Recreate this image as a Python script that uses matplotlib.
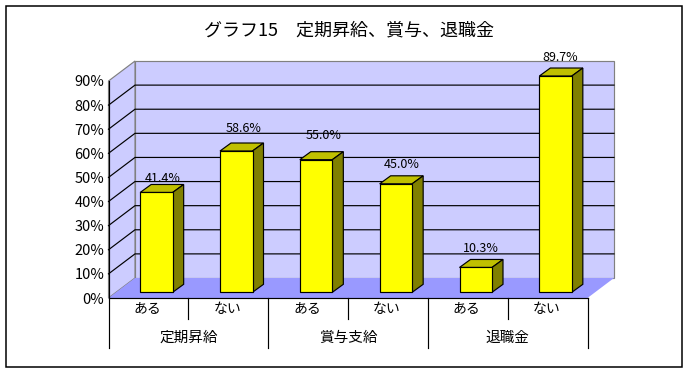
import matplotlib
matplotlib.use("Agg")
import matplotlib.pyplot as plt

plt.rcParams['font.family'] = ['Noto Sans CJK JP', 'DejaVu Sans']

title = "グラフ15　定期昇給、賞与、退職金"
groups = ["定期昇給", "賞与支給", "退職金"]
categories = ["ある", "ない", "ある", "ない", "ある", "ない"]
values = [41.4, 58.6, 55.0, 45.0, 10.3, 89.7]
yticks = [0, 10, 20, 30, 40, 50, 60, 70, 80, 90]

W, H = 689, 374
# front plane of the fake 3d box, in pixels
left, right, bottom, top = 108.5, 587.5, 298.0, 81.0

# how far each value label sits above its bar top, pixels (hand placed in the original)
label_lift = [6, 15, 16.5, 11.5, 10.5, 11]
label_shift = [1, 2, 2, 1, 0, 0]

fig = plt.figure(figsize=(W / 100, H / 100), dpi=100)
ax = fig.add_axes([left / W, 1 - bottom / H, (right - left) / W, (bottom - top) / H])
ax.set_xlim(0, 6)
ax.set_ylim(0, 90)
ax.patch.set_visible(False)

px = 6 / (right - left)  # x units per pixel
py = 90 / (bottom - top)  # y units per pixel
lw = 0.85

# depth offsets in data units
box_dx, box_dy = 26.5 * px, 20 * py
bar_off_dx, bar_off_dy = 8 * px, 5.7 * py
bar_dx, bar_dy = 11 * px, 8 * py
bar_w = 32.5 * px

# walls and floor
ax.fill([box_dx, 6 + box_dx, 6 + box_dx, box_dx], [box_dy, box_dy, 90 + box_dy, 90 + box_dy],
        fc="#ccccff", ec="#808080", lw=lw, clip_on=False, zorder=1)
ax.fill([0, box_dx, box_dx, 0], [0, box_dy, 90 + box_dy, 90],
        fc="#ccccff", ec="#808080", lw=lw, clip_on=False, zorder=1)
ax.fill([0, 6, 6 + box_dx, box_dx], [0, 0, box_dy, box_dy],
        fc="#9999ff", ec="none", clip_on=False, zorder=2)

# gridlines
for t in yticks[1:-1]:
    ax.plot([0, box_dx, 6 + box_dx], [t, t + box_dy, t + box_dy], color="black", lw=lw,
            clip_on=False, zorder=3, solid_joinstyle="miter")

# bars
for i, v in enumerate(values):
    x0 = i + 0.5 + bar_off_dx - bar_w / 2
    x1 = x0 + bar_w
    y0 = bar_off_dy
    y1 = v + bar_off_dy
    ax.fill([x0, x1, x1 + bar_dx, x0 + bar_dx], [y1, y1, y1 + bar_dy, y1 + bar_dy],
            fc="#c0c000", ec="black", lw=lw, clip_on=False, zorder=4)
    ax.fill([x1, x1 + bar_dx, x1 + bar_dx, x1], [y0, y0 + bar_dy, y1 + bar_dy, y1],
            fc="#808000", ec="black", lw=lw, clip_on=False, zorder=4)
    ax.text(i + 0.5 + bar_off_dx + (5 + label_shift[i]) * px, y1 + bar_dy + label_lift[i] * py,
            f"{v:.1f}%", ha="center", va="center", fontsize=9, color="black",
            clip_on=False, zorder=6)
ax.bar([i + 0.5 + bar_off_dx for i in range(6)], values, width=bar_w, bottom=bar_off_dy,
       color="#ffff00", edgecolor="black", lw=lw, zorder=5, clip_on=False)

# axes
ax.set_yticks(yticks)
ax.set_yticklabels([f"{t}%" for t in yticks], fontsize=10.5)
ax.tick_params(axis="y", length=0, pad=3)
ax.set_xticks([])
for s in ["top", "right", "bottom"]:
    ax.spines[s].set_visible(False)
ax.spines["left"].set_linewidth(lw)
ax.plot([0, 6], [0, 0], color="black", lw=lw, clip_on=False, zorder=3)

# two level category axis below the plot
tier1 = -20.5 * py
tier2 = -50 * py
for i, c in enumerate(categories):
    ax.text(i + 0.5 - 1 * px, -10.5 * py, c, ha="center", va="center", fontsize=10, clip_on=False)
    if i % 2 == 1 and i < 5:
        ax.plot([i + 1, i + 1], [0, tier2], color="black", lw=lw, clip_on=False)
    elif i % 2 == 0:
        ax.plot([i + 1, i + 1], [0, tier1], color="black", lw=lw, clip_on=False)
for x in [0, 6]:
    ax.plot([x, x], [0, tier2], color="black", lw=lw, clip_on=False)
for i, g in enumerate(groups):
    ax.text(2 * i + 1, -40 * py, g, ha="center", va="center", fontsize=10.5, clip_on=False)

fig.text(348.5 / W, 1 - 30 / H, title, ha="center", va="center", fontsize=13)

# outer frame
fig.add_artist(plt.Rectangle((6 / W, 1 - 367 / H), 676 / W, 361 / H, fill=False,
                             ec="black", lw=1.1, transform=fig.transFigure))

fig.savefig("out.png", dpi=100)
